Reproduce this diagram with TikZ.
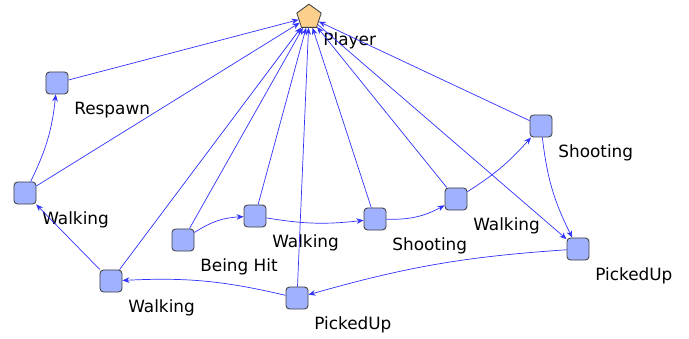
\documentclass[tikz,border=0pt]{standalone}
\usepackage{fontspec}
\setmainfont{DejaVu Sans}
\usetikzlibrary{arrows.meta,shapes.geometric}
\definecolor{stateblue}{RGB}{160,178,255}
\definecolor{playerorange}{RGB}{252,208,140}
\definecolor{edgeblue}{RGB}{50,50,255}

\begin{document}
\begin{tikzpicture}[x=0.025cm,y=-0.025cm,
    state/.style={draw=black!75,fill=stateblue,rounded corners=2.5pt,minimum size=0.55cm,inner sep=0pt,line width=0.6pt},
    player/.style={draw=black!75,fill=playerorange,regular polygon,regular polygon sides=5,minimum size=0.64cm,inner sep=0pt,line width=0.6pt},
    every label/.style={font=\fontsize{12}{14}\selectfont,inner sep=1pt,xshift=3pt,yshift=-4pt},
    trans/.style={draw=edgeblue,line width=0.5pt,-{Stealth[length=5pt,width=4pt]}}]
    \useasboundingbox (0,0) rectangle (689,339);
    % player and states
    \node[player,label=south east:Player] (player) at (309,17) {};
    \node[state,label=south east:Respawn] (respawn) at (57,83) {};
    \node[state,label=south east:Walking] (walkA) at (25,193) {};
    \node[state,label=south east:Walking] (walkB) at (111,281) {};
    \node[state,label=south east:Being Hit] (hit) at (183,240) {};
    \node[state,label=south east:Walking] (walkC) at (255,216) {};
    \node[state,label=south east:Shooting] (shootA) at (375,219) {};
    \node[state,label=south east:Walking] (walkD) at (456,199) {};
    \node[state,label=south east:Shooting] (shootB) at (541,126) {};
    \node[state,label=south east:PickedUp] (pickA) at (578,249) {};
    \node[state,label=south east:PickedUp] (pickB) at (297,298) {};
    % edges into player
    \foreach \s in {respawn,walkA,walkB,hit,walkC,pickB,shootA,walkD,shootB}
      \draw[trans] (\s) -- (player);
    \draw[trans] (player) -- (pickA);
    % sequence
    \draw[trans] (walkA) to[bend right=10] (respawn);
    \draw[trans] (walkB) -- (walkA);
    \draw[trans] (hit) to[bend left=15] (walkC);
    \draw[trans] (walkC) to[bend right=8] (shootA);
    \draw[trans] (shootA) to[bend right=15] (walkD);
    \draw[trans] (walkD) to[bend right=8] (shootB);
    \draw[trans] (shootB) to[bend right=10] (pickA);
    \draw[trans] (pickA) to[bend right=6] (pickB);
    \draw[trans] (pickB) to[bend right=8] (walkB);
\end{tikzpicture}
\end{document}
